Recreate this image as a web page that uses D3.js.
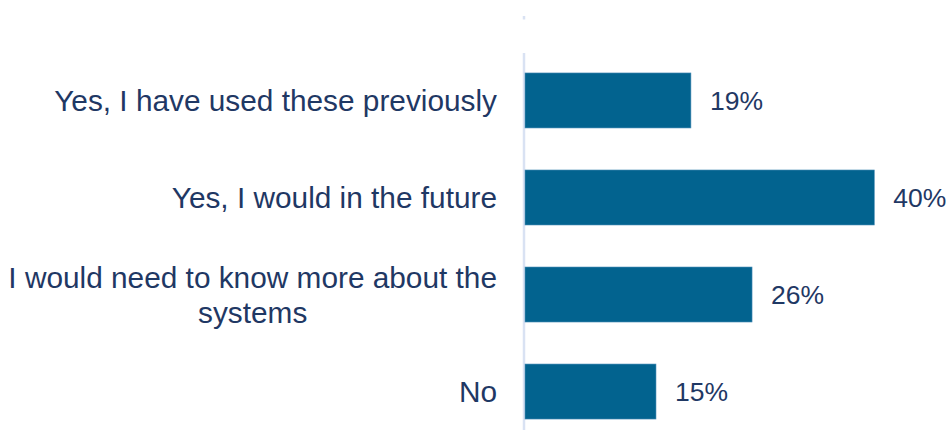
<!DOCTYPE html>
<html>
<head>
<meta charset="utf-8">
<script src="https://cdn.jsdelivr.net/npm/d3@7"></script>
<style>
  html, body { margin: 0; padding: 0; background: #ffffff; }
  svg { display: block; }
  text { font-family: "Liberation Sans", Arial, sans-serif; }
</style>
</head>
<body>
<svg id="chart" width="949" height="430"></svg>
<script>
// Survey responses
const categories = [
  "Yes, I have used these previously",
  "Yes, I would in the future",
  "I would need to know more about the systems",
  "No"
];
// Label lines (wrapped where the answer is long)
const labelLines = [
  ["Yes, I have used these previously"],
  ["Yes, I would in the future"],
  ["I would need to know more about the", "systems"],
  ["No"]
];
const values = [19, 40, 26, 15];
const valueLabels = ["19%", "40%", "26%", "15%"];

const W = 949, H = 430;
const axisX = 524;
const svg = d3.select("#chart");

const x = d3.scaleLinear().domain([0, 40]).range([axisX + 1, 874.3]);
const y = d3.scaleBand()
  .domain(categories)
  .range([52, 440])
  .paddingInner(0.433)
  .paddingOuter(0.216);

const textColor = "#1f3864";
const barColor = "#02638f";

// Category axis line
svg.append("line")
  .attr("x1", axisX).attr("x2", axisX)
  .attr("y1", 53).attr("y2", H)
  .attr("stroke", "#d9e2f3").attr("stroke-width", 2.5);
svg.append("line")
  .attr("x1", axisX).attr("x2", axisX)
  .attr("y1", 16).attr("y2", 19.5)
  .attr("stroke", "#d9e2f3").attr("stroke-width", 2.5);

// Bars
svg.append("g").selectAll("rect")
  .data(values)
  .join("rect")
  .attr("x", x(0))
  .attr("y", (d, i) => y(categories[i]))
  .attr("width", d => x(d) - x(0))
  .attr("height", y.bandwidth())
  .attr("fill", barColor)
  .attr("stroke", "#4f8fb8")
  .attr("stroke-width", 0.6);

// Value labels
svg.append("g").selectAll("text")
  .data(values)
  .join("text")
  .attr("x", d => x(d) + 19)
  .attr("y", (d, i) => y(categories[i]) + y.bandwidth() / 2)
  .attr("dy", "0.36em")
  .attr("fill", textColor)
  .attr("font-size", "26.5px")
  .text((d, i) => valueLabels[i]);

// Category labels: right-aligned block, wrapped lines centred within it
const lineH = 35;
const fontSize = 29.8;
const labelRight = 497;
const g = svg.append("g");
labelLines.forEach((lines, i) => {
  const cy = y(categories[i]) + y.bandwidth() / 2;
  const t = g.append("text")
    .attr("fill", textColor)
    .attr("font-size", fontSize + "px");
  const spans = lines.map((ln, j) =>
    t.append("tspan")
      .attr("y", cy + (j - (lines.length - 1) / 2) * lineH)
      .attr("dy", "0.36em")
      .text(ln));
  // widest line sets the block width
  const widths = spans.map(s => s.node().getComputedTextLength());
  const blockW = Math.max(...widths);
  spans.forEach((s, j) => {
    s.attr("x", labelRight - blockW / 2).attr("text-anchor", "middle");
  });
});
</script>
</body>
</html>
